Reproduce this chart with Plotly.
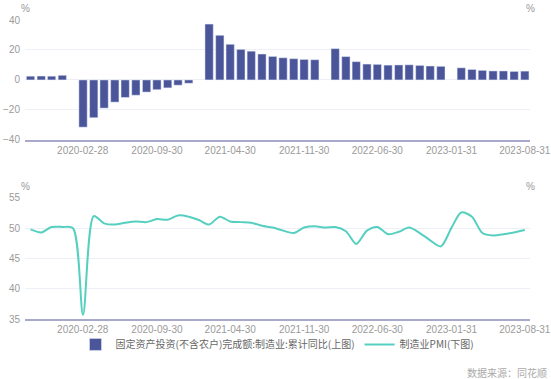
import plotly.graph_objects as go

# ---- data ----
bar_dates = [
    "2019-09-30", "2019-10-31", "2019-11-30", "2019-12-31",
    "2020-02-29", "2020-03-31", "2020-04-30", "2020-05-31", "2020-06-30", "2020-07-31",
    "2020-08-31", "2020-09-30", "2020-10-31", "2020-11-30", "2020-12-31",
    "2021-02-28", "2021-03-31", "2021-04-30", "2021-05-31", "2021-06-30", "2021-07-31",
    "2021-08-31", "2021-09-30", "2021-10-31", "2021-11-30", "2021-12-31",
    "2022-02-28", "2022-03-31", "2022-04-30", "2022-05-31", "2022-06-30", "2022-07-31",
    "2022-08-31", "2022-09-30", "2022-10-31", "2022-11-30", "2022-12-31",
    "2023-02-28", "2023-03-31", "2023-04-30", "2023-05-31", "2023-06-30", "2023-07-31",
    "2023-08-31",
]
fai_values = [
    2.5, 2.6, 2.5, 3.1,
    -31.5, -25.2, -18.8, -14.8, -11.7, -10.2, -8.1, -6.5, -5.3, -3.5, -2.2,
    37.3, 29.8, 23.8, 20.4, 19.2, 17.3, 15.7, 14.8, 14.2, 13.7, 13.5,
    20.9, 15.6, 12.2, 10.6, 10.4, 9.9, 10.0, 10.1, 9.7, 9.3, 9.1,
    8.1, 7.0, 6.4, 6.0, 6.0, 5.7, 5.9,
]

pmi_dates = [
    "2019-09-30", "2019-10-31", "2019-11-30", "2019-12-31",
    "2020-01-31", "2020-02-29", "2020-03-31", "2020-04-30", "2020-05-31", "2020-06-30",
    "2020-07-31", "2020-08-31", "2020-09-30", "2020-10-31", "2020-11-30", "2020-12-31",
    "2021-01-31", "2021-02-28", "2021-03-31", "2021-04-30", "2021-05-31", "2021-06-30",
    "2021-07-31", "2021-08-31", "2021-09-30", "2021-10-31", "2021-11-30", "2021-12-31",
    "2022-01-31", "2022-02-28", "2022-03-31", "2022-04-30", "2022-05-31", "2022-06-30",
    "2022-07-31", "2022-08-31", "2022-09-30", "2022-10-31", "2022-11-30", "2022-12-31",
    "2023-01-31", "2023-02-28", "2023-03-31", "2023-04-30", "2023-05-31", "2023-06-30",
    "2023-07-31", "2023-08-31",
]
pmi_values = [
    49.8, 49.3, 50.2, 50.2,
    50.0, 35.7, 52.0, 50.8, 50.6, 50.9, 51.1, 51.0, 51.5, 51.4, 52.1, 51.9,
    51.3, 50.6, 51.9, 51.1, 51.0, 50.9, 50.4, 50.1, 49.6, 49.2, 50.1, 50.3,
    50.1, 50.2, 49.5, 47.4, 49.6, 50.2, 49.0, 49.4, 50.1, 49.2, 48.0, 47.0,
    50.1, 52.6, 51.9, 49.2, 48.8, 49.0, 49.3, 49.7,
]

x_ticks = ["2020-02-28", "2020-09-30", "2021-04-30", "2021-11-30",
           "2022-06-30", "2023-01-31", "2023-08-31"]
top_y_ticks = [-40, -20, 0, 20, 40]
bottom_y_ticks = [35, 40, 45, 50, 55]

bar_name = "固定资产投资(不含农户)完成额:制造业:累计同比(上图)"
line_name = "制造业PMI(下图)"

# ---- styles ----
BAR_COLOR = "#4b559a"
LINE_COLOR = "#55cfc0"
TICK_FONT = dict(family="Liberation Sans, Noto Sans CJK SC", size=10, color="#9a9a9a")
GRID = "#eef0f8"
AXIS_LINE = "#a9a9cc"
x_range = ["2019-09-14", "2023-09-15"]
DAY_MS = 24 * 3600 * 1000

fig = go.Figure()
fig.add_trace(go.Bar(
    x=bar_dates, y=fai_values, name=bar_name, marker_color=BAR_COLOR,
    width=[24 * DAY_MS] * len(bar_dates), xaxis="x", yaxis="y",
))
fig.add_trace(go.Scatter(
    x=pmi_dates, y=pmi_values, name=line_name, mode="lines",
    line=dict(color=LINE_COLOR, width=2, shape="spline", smoothing=0.8),
    xaxis="x2", yaxis="y2",
))

common_x = dict(
    type="date", range=x_range, tickmode="array", tickvals=x_ticks, ticktext=x_ticks,
    showgrid=False, showline=True, linecolor=AXIS_LINE, linewidth=2,
    tickfont=TICK_FONT, ticks="", zeroline=False, automargin=False,
    ticklabeloverflow="allow",
)
common_y = dict(zeroline=False, tickfont=TICK_FONT, ticks="", ticklabelstandoff=4,
                automargin=False)

top_dom = [0.599, 1.0]
bot_dom = [0.0, 0.405]

fig.update_layout(
    width=551, height=379,
    margin=dict(l=25, r=21, t=20, b=60),
    paper_bgcolor="white", plot_bgcolor="white",
    font=dict(family="Liberation Sans, Noto Sans CJK SC", color="#666"),
    showlegend=True,
    xaxis=dict(common_x, domain=[0, 1], anchor="y"),
    xaxis2=dict(common_x, domain=[0, 1], anchor="y2"),
    yaxis=dict(common_y, domain=top_dom, range=[-40, 40], tickvals=top_y_ticks,
               showgrid=True, gridcolor=GRID, anchor="x"),
    yaxis3=dict(common_y, domain=top_dom, range=[-40, 40], tickvals=top_y_ticks,
                overlaying="y", side="right", showgrid=False, anchor="x"),
    yaxis2=dict(common_y, domain=bot_dom, range=[35, 55], tickvals=bottom_y_ticks,
                showgrid=True, gridcolor=GRID, anchor="x2"),
    yaxis4=dict(common_y, domain=bot_dom, range=[35, 55], tickvals=bottom_y_ticks,
                overlaying="y2", side="right", showgrid=False, anchor="x2"),
    legend=dict(orientation="h", x=0.5, xanchor="center", y=-0.085, yanchor="middle",
                font=dict(family="Noto Sans CJK SC", size=10, color="#666"),
                bgcolor="rgba(0,0,0,0)"),
)

pct_font = dict(family="Liberation Sans", size=10, color="#999")
for xp, yp in [(0.0, 1.0), (1.0, 1.0), (0.0, bot_dom[1]), (1.0, bot_dom[1])]:
    fig.add_annotation(x=xp, y=yp, xref="paper", yref="paper", text="%", showarrow=False,
                       font=pct_font, xanchor="center", yanchor="bottom", yshift=4)

fig.add_annotation(x=1.0, y=0, xref="paper", yref="paper", text="数据来源：同花顺",
                   showarrow=False, xanchor="right", yanchor="middle", xshift=19, yshift=-53,
                   font=dict(family="Noto Sans CJK SC", size=10, color="#aaa"))

fig.write_html("out.html")
